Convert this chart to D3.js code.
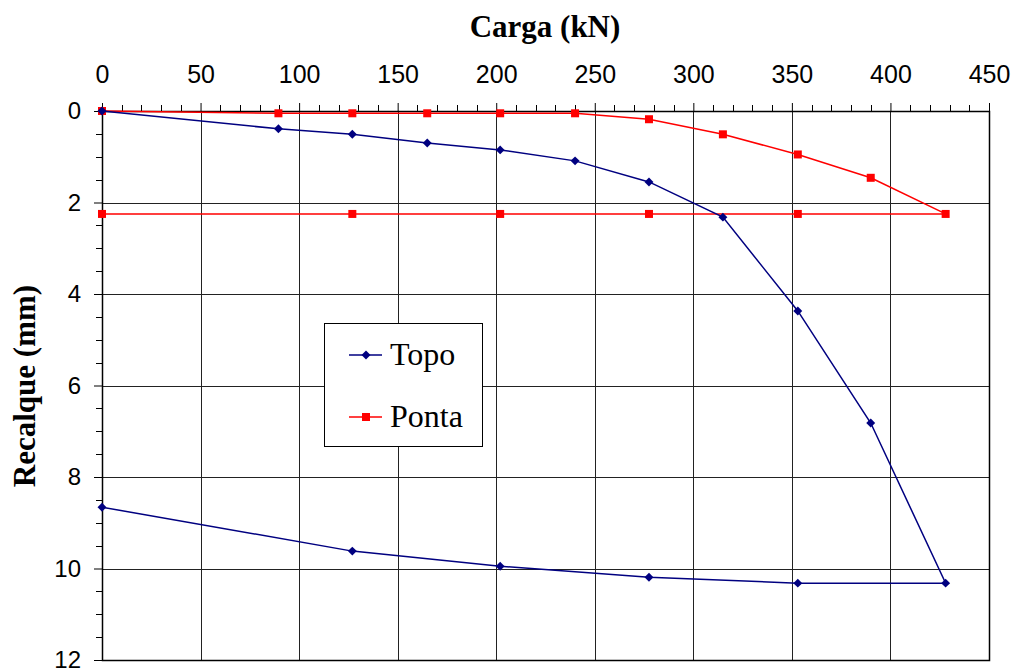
<!DOCTYPE html>
<html><head><meta charset="utf-8">
<script src="https://cdn.jsdelivr.net/npm/d3@7"></script>
<style>body{margin:0;background:#fff}</style>
</head><body><svg id="c" width="1014" height="670"></svg>
<script>
const topoLoad = [0, 89.5, 127, 165, 202, 240, 277.5, 315, 353, 390, 428, 353, 277.5, 202, 127, 0];
const topoSettle = [0, 0.39, 0.51, 0.70, 0.85, 1.09, 1.55, 2.32, 4.37, 6.82, 10.32, 10.32, 10.19, 9.95, 9.62, 8.66];
const pontaLoad = [0, 89.5, 127, 165, 202, 240, 277.5, 315, 353, 390, 428, 353, 277.5, 202, 127, 0];
const pontaSettle = [0, 0.05, 0.05, 0.05, 0.05, 0.05, 0.18, 0.51, 0.95, 1.46, 2.25, 2.25, 2.25, 2.25, 2.25, 2.25];
const xTicks = [0, 50, 100, 150, 200, 250, 300, 350, 400, 450];
const yTicks = [0, 2, 4, 6, 8, 10, 12];
const seriesNames = ["Topo", "Ponta"];
const seriesColors = ["#000080", "#ff0000"];

const svg = d3.select("#c");
const L = 102, R = 989, T = 111, B = 660;
const x = d3.scaleLinear().domain([0, 450]).range([L, R]);
const y = d3.scaleLinear().domain([0, 12]).range([T, B]);

// gridlines
const g = svg.append("g");
g.selectAll(".vg").data(xTicks.slice(1)).enter().append("line")
  .attr("x1", d => Math.round(x(d)) + 0.5).attr("x2", d => Math.round(x(d)) + 0.5)
  .attr("y1", T).attr("y2", B).attr("stroke", "#222").attr("stroke-width", 1);
g.selectAll(".hg").data(yTicks.slice(1)).enter().append("line")
  .attr("y1", d => Math.round(y(d)) + 0.5).attr("y2", d => Math.round(y(d)) + 0.5)
  .attr("x1", L).attr("x2", R).attr("stroke", "#222").attr("stroke-width", 1);

// frame
svg.append("rect").attr("x", L + 0.5).attr("y", T + 0.5).attr("width", R - L).attr("height", B - T)
  .attr("fill", "none").attr("stroke", "#000").attr("stroke-width", 1.5);

// top axis
const xAxis = d3.axisTop(x).tickValues(xTicks).tickSize(8).tickPadding(20).tickFormat(d3.format("d"));
const xa = svg.append("g").attr("transform", `translate(0,${T})`).call(xAxis);
xa.select(".domain").remove();
xa.selectAll("text").attr("font-family", "Liberation Sans, Arial, sans-serif").attr("font-size", 25).attr("fill", "#000");
xa.selectAll("line").attr("stroke", "#000");
const xMinor = d3.range(0, 451, 10).filter(v => v % 50 !== 0);
svg.append("g").selectAll("line").data(xMinor).enter().append("line")
  .attr("x1", d => Math.round(x(d)) + 0.5).attr("x2", d => Math.round(x(d)) + 0.5)
  .attr("y1", T - 6).attr("y2", T).attr("stroke", "#000");

// left axis
const yAxis = d3.axisLeft(y).tickValues(yTicks).tickSize(8).tickPadding(13).tickFormat(d3.format("d"));
const ya = svg.append("g").attr("transform", `translate(${L},0)`).call(yAxis);
ya.select(".domain").remove();
ya.selectAll("text").attr("font-family", "Liberation Sans, Arial, sans-serif").attr("font-size", 24).attr("fill", "#000");
ya.selectAll("line").attr("stroke", "#000");
const yMinor = d3.range(0, 12.01, 0.5).filter(v => v % 2 !== 0);
svg.append("g").selectAll("line").data(yMinor).enter().append("line")
  .attr("y1", d => Math.round(y(d)) + 0.5).attr("y2", d => Math.round(y(d)) + 0.5)
  .attr("x1", L - 6).attr("x2", L).attr("stroke", "#000");

// titles
svg.append("text").attr("x", 545).attr("y", 37).attr("text-anchor", "middle")
  .attr("font-family", "Liberation Serif, Times New Roman, serif").attr("font-weight", "bold").attr("font-size", 31)
  .text("Carga (kN)");
svg.append("text").attr("transform", "translate(35,386) rotate(-90)").attr("text-anchor", "middle")
  .attr("font-family", "Liberation Serif, Times New Roman, serif").attr("font-weight", "bold").attr("font-size", 31)
  .text("Recalque (mm)");

// series
const line = d3.line().x(d => x(d[0])).y(d => y(d[1]));
const topo = topoLoad.map((v, i) => [v, topoSettle[i]]);
const ponta = pontaLoad.map((v, i) => [v, pontaSettle[i]]);

svg.append("path").datum(ponta).attr("d", line).attr("fill", "none").attr("stroke", seriesColors[1]).attr("stroke-width", 1.5);
svg.append("g").selectAll("rect").data(ponta).enter().append("rect")
  .attr("x", d => x(d[0]) - 4).attr("y", d => y(d[1]) - 4).attr("width", 8).attr("height", 8).attr("fill", seriesColors[1]);

svg.append("path").datum(topo).attr("d", line).attr("fill", "none").attr("stroke", seriesColors[0]).attr("stroke-width", 1.5);
const diamond = d3.symbol().type(d3.symbolSquare).size(40);
svg.append("g").selectAll("path").data(topo).enter().append("path")
  .attr("d", diamond).attr("transform", d => `translate(${x(d[0])},${y(d[1])}) rotate(45)`).attr("fill", seriesColors[0]);

// legend
const lg = svg.append("g");
lg.append("rect").attr("x", 324.5).attr("y", 323.5).attr("width", 158).attr("height", 123)
  .attr("fill", "#fff").attr("stroke", "#000").attr("stroke-width", 1);
const ly = [355, 417];
seriesNames.forEach((n, i) => {
  lg.append("line").attr("x1", 349).attr("x2", 382).attr("y1", ly[i]).attr("y2", ly[i])
    .attr("stroke", seriesColors[i]).attr("stroke-width", 1.5);
  if (i === 0) lg.append("path").attr("d", diamond).attr("transform", `translate(366,${ly[i]}) rotate(45)`).attr("fill", seriesColors[i]);
  else lg.append("rect").attr("x", 362).attr("y", ly[i] - 4).attr("width", 8).attr("height", 8).attr("fill", seriesColors[i]);
  lg.append("text").attr("x", 390).attr("y", ly[i] + 10).attr("font-family", "Liberation Serif, Times New Roman, serif")
    .attr("font-size", 32).text(n);
});
</script></body></html>
